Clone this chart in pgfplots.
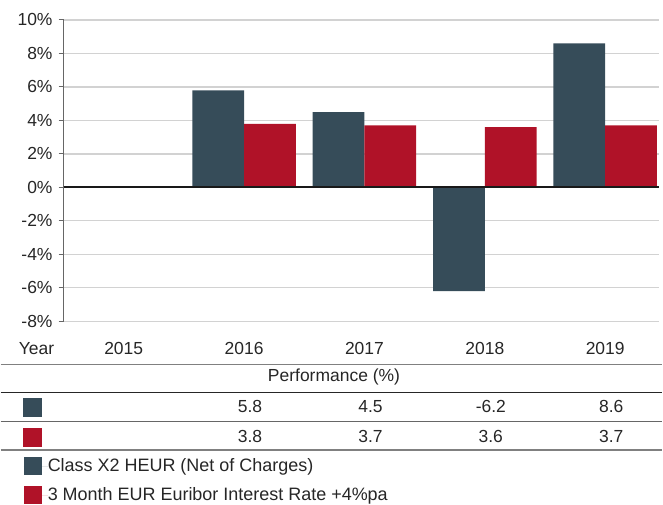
\documentclass[border=0pt]{standalone}
\usepackage{fontspec}
\setmainfont{Liberation Sans}
\usepackage{pgfplots}
\pgfplotsset{compat=1.18}
\usepackage{pgfplotstable}
\definecolor{slate}{RGB}{54,76,89}
\definecolor{crimson}{RGB}{176,18,40}
\definecolor{gridgray}{RGB}{210,210,210}
\pgfplotstableread{
x fund bench
1 5.8 3.8
2 4.5 3.7
3 -6.2 3.6
4 8.6 3.7
}\perf
\begin{document}
\fontsize{17.5}{21}\selectfont
\begin{tikzpicture}[x=1pt,y=1pt]
\path (0,0) rectangle (663,504);
\begin{axis}[
  at={(63pt,182pt)}, anchor=south west,
  scale only axis, width=597pt, height=302pt,
  xmin=-0.5, xmax=4.45, ymin=-8, ymax=10,
  clip=false,
  axis x line*=bottom, axis y line*=left,
  x axis line style={draw=none},
  y axis line style={draw=black!60, line width=1.4pt, -},
  ytick={-8,-6,...,10},
  yticklabels={-8\%,-6\%,-4\%,-2\%,0\%,2\%,4\%,6\%,8\%,10\%},
  tick align=outside, major tick length=5pt,
  ytick style={draw=black!60, line width=1pt},
  xtick={0,1,2,3,4},
  xticklabels={2015,2016,2017,2018,2019},
  xtick style={draw=none},
  x tick label style={anchor=center, yshift=-22pt},
  tick label style={font=\fontsize{17.5}{21}\selectfont, text=black!85},
  ymajorgrids, major grid style={draw=gridgray, line width=1.2pt},
  legend style={at={(axis description cs:0,0)}, xshift=-40pt, yshift=-136pt,
    anchor=north west, draw=none, fill=none, inner sep=0pt,
    row sep=11pt, font=\fontsize{18}{21}\selectfont,
    nodes={inner sep=0pt, text=black!85}},
  legend cell align=left,
  legend image code/.code={\fill[#1] (0pt,-9pt) rectangle (18pt,9pt); \path (0pt,0pt) -- (24pt,0pt);},
]
\addplot[ybar, bar width=0.43, bar shift=-0.215, fill=slate, draw=none] table[x=x, y=fund]{\perf};
\addlegendentry{Class X2 HEUR (Net of Charges)}
\addplot[ybar, bar width=0.43, bar shift=0.215, fill=crimson, draw=none] table[x=x, y=bench]{\perf};
\addlegendentry{3 Month EUR Euribor Interest Rate +4\%pa}
\addplot[black!90, line width=2pt, forget plot] coordinates {(-0.5,0) (4.45,0)};
% table rows
\addplot[draw=none, mark=none, forget plot, point meta=explicit,
  nodes near coords={\pgfmathprintnumber[assume math mode=true]{\pgfplotspointmeta}},
  every node near coord/.style={anchor=center, xshift=6pt, text=black!85, font=\fontsize{17.5}{21}\selectfont}]
  table[x=x, y expr=-13.11, meta=fund]{\perf};
\addplot[draw=none, mark=none, forget plot, point meta=explicit,
  nodes near coords={\pgfmathprintnumber[assume math mode=true]{\pgfplotspointmeta}},
  every node near coord/.style={anchor=center, xshift=6pt, text=black!85, font=\fontsize{17.5}{21}\selectfont}]
  table[x=x, y expr=-14.9, meta=bench]{\perf};
\addplot[only marks, mark=square*, mark size=9pt, color=slate, forget plot] coordinates {(-0.757,-13.11)};
\addplot[only marks, mark=square*, mark size=9pt, color=crimson, forget plot] coordinates {(-0.757,-14.9)};
\end{axis}
\node[anchor=west, inner sep=0pt, text=black!85] at (18,504-349) {Year};
\node[anchor=center, inner sep=0pt, text=black!85] at (334,504-378) {Performance (\%)};
\draw[black!50, line width=1.3pt] (0,504-365) -- (663,504-365);
\draw[black!85, line width=1.3pt] (0,504-393) -- (663,504-393);
\draw[black!60, line width=1.3pt] (0,504-422) -- (663,504-422);
\draw[black!50, line width=1.3pt] (0,504-451) -- (663,504-451);
\end{tikzpicture}
\end{document}
